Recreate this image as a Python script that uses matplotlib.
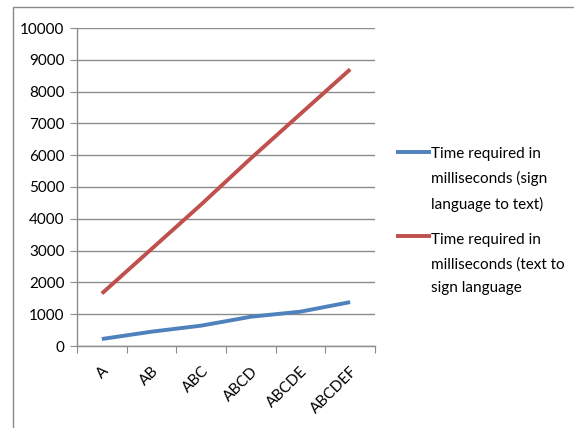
import matplotlib.pyplot as plt
from matplotlib.legend_handler import HandlerLine2D
from matplotlib.patches import Rectangle
from matplotlib.transforms import ScaledTranslation

categories = ['A', 'AB', 'ABC', 'ABCD', 'ABCDE', 'ABCDEF']
sign_to_text = [220, 450, 640, 920, 1080, 1380]
text_to_sign = [1650, 3050, 4450, 5900, 7300, 8700]
y_ticks = [0, 1000, 2000, 3000, 4000, 5000, 6000, 7000, 8000, 9000, 10000]

BLUE = '#4F81BD'
RED = '#C0504D'
GRID = '#8C8C8C'

plt.rcParams['font.family'] = ['Lato', 'DejaVu Sans']


class TopAlignedLine(HandlerLine2D):
    """Put the legend key next to the first line of a multi-line label."""

    def __init__(self, shift, **kw):
        super().__init__(**kw)
        self.shift = shift

    def create_artists(self, legend, orig_handle, xdescent, ydescent,
                       width, height, fontsize, trans):
        artists = super().create_artists(legend, orig_handle, xdescent, ydescent,
                                         width, height, fontsize, trans)
        for a in artists:
            a.set_ydata([y + self.shift for y in a.get_ydata()])
        return artists


fig = plt.figure(figsize=(5.74, 4.28), dpi=100)
fig.patch.set_facecolor('white')

# outer chart border (only left and top edges fall inside the image)
fig.add_artist(Rectangle((13 / 574, -0.05), 1.2, 1 - 7 / 428 + 0.05,
                         transform=fig.transFigure, fill=False,
                         edgecolor='#8A8A8A', linewidth=1.0))

ax = fig.add_axes([77 / 574, 1 - 346 / 428, 298 / 574, 318 / 428])
x = list(range(len(categories)))

l1, = ax.plot(x, sign_to_text, color=BLUE, linewidth=2.8, solid_capstyle='butt',
              label='Time required in\nmilliseconds (sign\nlanguage to text)')
l2, = ax.plot(x, text_to_sign, color=RED, linewidth=2.8, solid_capstyle='butt',
              label='Time required in\nmilliseconds (text to\nsign language')

ax.set_xlim(-0.5, len(categories) - 0.5)
ax.set_ylim(0, 10000)
ax.set_yticks(y_ticks)
ax.set_yticklabels([str(v) for v in y_ticks])
ax.yaxis.grid(True, color=GRID, linewidth=1.0)
ax.set_axisbelow(True)

# category ticks sit between the labels
ax.set_xticks([i - 0.5 for i in range(len(categories) + 1)])
ax.set_xticklabels([])
ax.set_xticks(x, minor=True)
ax.set_xticklabels(categories, minor=True, rotation=45, ha='right',
                   rotation_mode='anchor', fontsize=11)
shift = ScaledTranslation(7 / 100, 0, fig.dpi_scale_trans)
for lab in ax.get_xticklabels(minor=True):
    lab.set_transform(lab.get_transform() + shift)
ax.tick_params(axis='x', which='major', direction='out', length=5, color=GRID)
ax.tick_params(axis='x', which='minor', length=0, pad=13)
ax.tick_params(axis='y', direction='out', length=5, color=GRID, labelsize=11, pad=4)

for side in ['top', 'right']:
    ax.spines[side].set_visible(False)
for side in ['left', 'bottom']:
    ax.spines[side].set_color(GRID)
    ax.spines[side].set_linewidth(1.0)

leg = ax.legend(handles=[l1, l2], loc='upper left',
                bbox_to_anchor=(396 / 574, 1 - 147 / 428),
                bbox_transform=fig.transFigure, frameon=False, fontsize=11,
                handlelength=2.3, handletextpad=0.0, labelspacing=1.4,
                borderpad=0, borderaxespad=0,
                handler_map={l1: TopAlignedLine(20), l2: TopAlignedLine(20)})
for t in leg.get_texts():
    t.set_linespacing(1.86)

fig.savefig('out.png', dpi=100)
